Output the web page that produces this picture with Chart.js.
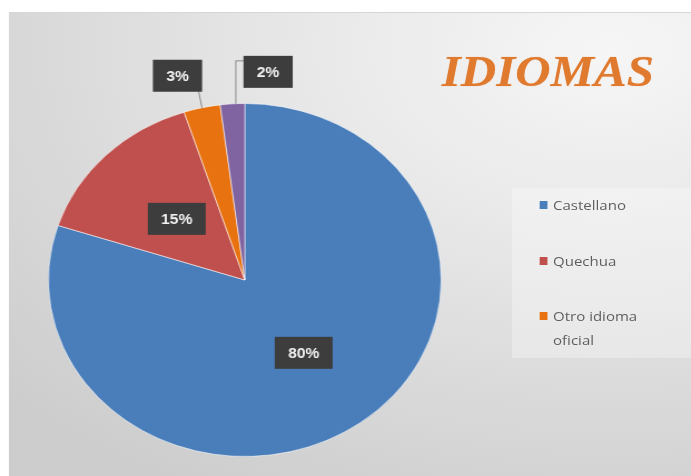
<!DOCTYPE html>
<html>
<head>
<meta charset="utf-8">
<script src="https://cdn.jsdelivr.net/npm/chart.js@4"></script>
<style>
  html, body { margin: 0; padding: 0; background: #fff; overflow: hidden; }
  /* the reference is stretched sideways, so the whole stage is scaled on x */
  #stage {
    position: absolute; left: 0; top: 0; width: 621px; height: 476px;
    transform: scaleX(1.1127); transform-origin: 0 0;
  }
  #panel {
    position: absolute; left: 8px; top: 12px; width: 613px; height: 464px;
    background: radial-gradient(ellipse 120% 110% at 88% 8%, #f6f6f6 0%, #e9e9e9 35%, #d9d9d9 70%, #cdcdcd 100%);
    border-top: 1px solid #d6d6d6;
  }
  #pie { position: absolute; left: 0; top: 0; }
  #title {
    position: absolute; left: 397px; top: 50px;
    font-family: "Liberation Serif", "DejaVu Serif", serif;
    font-style: italic; font-weight: 700; font-size: 44px; line-height: 44px;
    color: #e07a2e; text-shadow: 0 0 1px rgba(226, 119, 42, 0.6);
    white-space: nowrap;
  }
  #legend {
    position: absolute; left: 460px; top: 188px; width: 161px; height: 170px;
    background: rgba(255, 255, 255, 0.3);
  }
  #legend .item {
    position: absolute; left: 25px; width: 110px;
    font-family: "Open Sans", "Liberation Sans", sans-serif; font-size: 13.5px; line-height: 24px;
    color: #5f5f5f; padding-left: 12px;
  }
  #legend .sw { position: absolute; left: 0; top: 8px; width: 7px; height: 8px; }
</style>
</head>
<body>
<div id="stage">
  <div id="panel"></div>
  <div id="legend"></div>
  <canvas id="pie" width="621" height="476"></canvas>
  <div id="title">IDIOMAS</div>
</div>
<script>
const categories = ['Castellano', 'Quechua', 'Otro idioma oficial', 'Idioma extranjero']
const percentages = [80, 15, 3, 2]
const sliceColors = ['#4a7ebb', '#c0504d', '#e8720f', '#8064a2']

// the legend in the reference is cut off after the third item
const legendCount = 3
// where each data label goes: inside as a share of the radius, or moved out with a leader line
const labelPlacement = [
  { inside: 0.51 },
  { inside: 0.49 },
  { dx: -22, dy: -32 },
  { dx: 32, dy: -32, elbow: true },
]

let legend = document.getElementById('legend')
let rowTops = [5, 61, 116]
categories.slice(0, legendCount).forEach((name, i) => {
  let item = document.createElement('div')
  item.className = 'item'
  item.style.top = rowTops[i] + 'px'
  item.innerHTML = '<span class="sw" style="background:' + sliceColors[i] + '"></span>' + name
  legend.appendChild(item)
})

const sliceLabels = {
  id: 'sliceLabels',
  afterDatasetsDraw(chart) {
    const ctx = chart.ctx
    const meta = chart.getDatasetMeta(0)
    const total = percentages.reduce((a, b) => a + b, 0)
    ctx.save()
    ctx.font = 'bold 14px "Liberation Sans", Arial, sans-serif'
    ctx.textAlign = 'center'
    ctx.textBaseline = 'middle'
    meta.data.forEach((arc, i) => {
      const p = arc.getProps(['x', 'y', 'startAngle', 'endAngle', 'outerRadius'], true)
      const mid = (p.startAngle + p.endAngle) / 2
      const place = labelPlacement[i]
      const text = Math.round((percentages[i] / total) * 100) + '%'
      const w = ctx.measureText(text).width + 24
      const h = 32
      const ex = p.x + Math.cos(mid) * p.outerRadius
      const ey = p.y + Math.sin(mid) * p.outerRadius
      let cx, cy
      if (place.inside) {
        cx = p.x + Math.cos(mid) * p.outerRadius * place.inside
        cy = p.y + Math.sin(mid) * p.outerRadius * place.inside
      } else {
        cx = ex + place.dx
        cy = ey + place.dy
        ctx.strokeStyle = '#8a8a8a'
        ctx.lineWidth = 1
        ctx.beginPath()
        if (place.elbow) {
          ctx.moveTo(ex + 3, ey)
          ctx.lineTo(ex + 3, cy - h / 2 + 5)
          ctx.lineTo(cx - w / 2, cy - h / 2 + 5)
        } else {
          ctx.moveTo(ex, ey)
          ctx.lineTo(Math.min(ex, cx + w / 2 - 3), cy + h / 2)
        }
        ctx.stroke()
      }
      ctx.fillStyle = '#3d3d3d'
      ctx.fillRect(cx - w / 2, cy - h / 2, w, h)
      ctx.fillStyle = '#f2f2f2'
      ctx.fillText(text, cx, cy + 1)
    })
    ctx.restore()
  },
}

const config = {
  type: 'pie',
  data: {
    labels: categories,
    datasets: [
      {
        data: percentages,
        backgroundColor: sliceColors,
        borderColor: 'rgba(255, 255, 255, 0.55)',
        borderWidth: 1,
      },
    ],
  },
  options: {
    responsive: false,
    animation: false,
    layout: { padding: { top: 103, bottom: 19, left: 43, right: 224 } },
    plugins: {
      legend: { display: false },
      title: { display: false },
      tooltip: { enabled: false },
    },
  },
  plugins: [sliceLabels],
}

var myChart = new Chart(document.getElementById('pie'), config)
</script>
</body>
</html>
